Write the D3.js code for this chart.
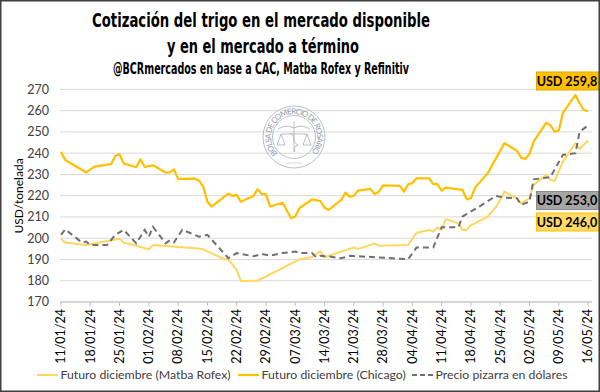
<!DOCTYPE html>
<meta charset="utf-8">
<style>
  body { margin: 0; background: #fff; }
  text { font-family: Lato, "Open Sans", sans-serif; }
  .grid line { stroke: #d9d9d9; stroke-width: 1; }
  .title { font-family: "Liberation Sans Narrow", "DejaVu Sans Condensed", sans-serif; font-weight: bold; fill: #000; }
</style>
<svg width="600" height="392"></svg>
<script src="https://d3js.org/d3.v7.min.js"></script>
<script>
// Futuro diciembre (Matba Rofex)
const rofexDates = ["11/01/24","12/01/24","17/01/24","25/01/24","26/01/24","01/02/24","02/02/24","12/02/24","14/02/24",
  "19/02/24","20/02/24","22/02/24","23/02/24","27/02/24","08/03/24","11/03/24","13/03/24","14/03/24","18/03/24",
  "21/03/24","22/03/24","26/03/24","27/03/24","03/04/24","05/04/24","08/04/24","09/04/24","10/04/24","11/04/24",
  "12/04/24","15/04/24","16/04/24","17/04/24","18/04/24","19/04/24","22/04/24","24/04/24","26/04/24","29/04/24",
  "30/04/24","02/05/24","03/05/24","06/05/24","07/05/24","08/05/24","10/05/24","13/05/24","14/05/24","16/05/24"];
const rofexValues = [199.7,198.0,196.8,199.7,198.0,194.8,196.8,195.3,194.8,
  190.1,190.1,185.1,179.9,180.0,190.1,191.2,193.8,191.0,193.7,
  195.6,195.0,197.5,196.4,196.8,202.6,203.9,203.1,205.0,203.9,
  209.0,207.0,203.9,203.9,206.2,207.0,210.2,214.6,221.9,218.8,
  216.4,218.8,225.1,229.8,227.4,226.9,236.0,244.7,242.0,246.0];

// Futuro diciembre (Chicago)
const chicagoDates = ["11/01/24","12/01/24","17/01/24","19/01/24","23/01/24","24/01/24","25/01/24","26/01/24","29/01/24",
  "30/01/24","31/01/24","02/02/24","05/02/24","06/02/24","07/02/24","08/02/24","12/02/24","13/02/24","14/02/24",
  "15/02/24","16/02/24","20/02/24","21/02/24","22/02/24","23/02/24","26/02/24","27/02/24","28/02/24","29/02/24",
  "01/03/24","04/03/24","06/03/24","07/03/24","08/03/24","11/03/24","13/03/24","14/03/24","15/03/24","18/03/24",
  "19/03/24","20/03/24","21/03/24","22/03/24","25/03/24","26/03/24","27/03/24","28/03/24","01/04/24","02/04/24",
  "03/04/24","04/04/24","05/04/24","08/04/24","09/04/24","10/04/24","11/04/24","12/04/24","15/04/24","16/04/24",
  "17/04/24","18/04/24","19/04/24","22/04/24","26/04/24","29/04/24","30/04/24","01/05/24","02/05/24","03/05/24",
  "06/05/24","07/05/24","08/05/24","09/05/24","10/05/24","13/05/24","14/05/24","15/05/24","16/05/24"];
const chicagoValues = [240.7,236.8,231.0,233.7,234.9,238.8,239.5,235.2,233.4,
  237.1,233.5,234.3,230.9,231.0,232.4,227.9,228.0,227.1,224.3,
  217.2,214.9,221.0,219.9,220.4,217.2,219.9,223.0,220.8,220.7,
  214.9,216.7,209.4,210.2,214.1,218.3,217.5,214.4,213.3,218.0,
  221.4,219.6,219.9,222.4,223.2,220.8,221.9,224.9,224.6,221.9,
  225.4,225.9,228.2,228.2,225.4,225.4,222.4,223.8,223.0,222.7,
  218.3,218.8,223.8,230.5,244.7,241.2,237.9,237.3,239.6,245.4,
  254.3,253.2,250.1,250.6,259.0,267.4,263.5,260.3,259.8];

// Precio pizarra en dólares
const pizarraDates = ["11/01/24","12/01/24","16/01/24","17/01/24","18/01/24","22/01/24","24/01/24","26/01/24","29/01/24",
  "31/01/24","01/02/24","02/02/24","05/02/24","06/02/24","07/02/24","09/02/24","13/02/24","15/02/24","20/02/24",
  "22/02/24","26/02/24","28/02/24","01/03/24","04/03/24","07/03/24","08/03/24","11/03/24","12/03/24","13/03/24",
  "15/03/24","18/03/24","20/03/24","26/03/24","03/04/24","05/04/24","09/04/24","11/04/24","15/04/24","16/04/24",
  "17/04/24","20/04/24","24/04/24","26/04/24","29/04/24","30/04/24","02/05/24","03/05/24","07/05/24","10/05/24",
  "13/05/24","14/05/24","16/05/24"];
const pizarraValues = [201.6,204.2,198.0,198.4,196.8,196.8,201.6,203.9,197.6,
  203.9,200.7,205.3,197.6,199.0,198.0,204.0,200.7,201.6,190.6,
  193.0,191.5,192.6,191.8,193.0,193.7,193.0,193.0,191.1,191.8,
  191.4,190.6,191.7,191.1,190.1,195.6,195.6,205.2,205.2,210.2,
  211.4,214.9,219.9,219.1,218.8,215.7,217.2,227.7,228.7,239.2,
  240.0,250.1,253.0];

const xTickLabels = ["11/01/24","18/01/24","25/01/24","01/02/24","08/02/24","15/02/24","22/02/24","29/02/24","07/03/24",
  "14/03/24","21/03/24","28/03/24","04/04/24","11/04/24","18/04/24","25/04/24","02/05/24","09/05/24","16/05/24"];
const yTicks = [170, 180, 190, 200, 210, 220, 230, 240, 250, 260, 270];

const seriesNames = ["Futuro diciembre (Matba Rofex)", "Futuro diciembre (Chicago)", "Precio pizarra en dólares"];

const parse = d3.timeParse("%d/%m/%y");
const fmt = d3.formatLocale({decimal: ",", thousands: ".", grouping: [3], currency: ["", ""]}).format(".1f");

const svg = d3.select("svg");

const x = d3.scaleTime()
  .domain([parse("11/01/24"), parse("16/05/24")])
  .range([61, 588]);
const y = d3.scaleLinear()
  .domain([170, 270])
  .range([302, 89.4]);

function toPoints(dates, values) {
  return dates.map(function(d, i) { return {date: parse(d), value: values[i]}; });
}
const rofex = toPoints(rofexDates, rofexValues);
const chicago = toPoints(chicagoDates, chicagoValues);
const pizarra = toPoints(pizarraDates, pizarraValues);

// gridlines
svg.append("g").attr("class", "grid")
  .selectAll("line")
  .data(yTicks)
  .enter().append("line")
  .attr("x1", 60).attr("x2", 592)
  .attr("y1", function(d) { return y(d); })
  .attr("y2", function(d) { return y(d); });

// y labels
svg.append("g")
  .selectAll("text")
  .data(yTicks)
  .enter().append("text")
  .attr("x", 49)
  .attr("y", function(d) { return y(d); })
  .attr("dy", "0.35em")
  .attr("text-anchor", "end")
  .attr("font-size", 12.5)
  .attr("fill", "#404040")
  .text(function(d) { return d; });

svg.append("text")
  .attr("transform", "translate(23,196) rotate(-90)")
  .attr("text-anchor", "middle")
  .attr("font-size", 12)
  .attr("fill", "#000")
  .text("USD/tonelada");

// x axis
const xTicks = xTickLabels.map(parse);
svg.append("line")
  .attr("x1", 60).attr("x2", 592)
  .attr("y1", 302).attr("y2", 302)
  .attr("stroke", "#bfbfbf");
svg.append("g")
  .selectAll("line")
  .data(xTicks)
  .enter().append("line")
  .attr("x1", function(d) { return x(d); })
  .attr("x2", function(d) { return x(d); })
  .attr("y1", 302).attr("y2", 306)
  .attr("stroke", "#bfbfbf");
svg.append("g")
  .selectAll("text")
  .data(xTicks)
  .enter().append("text")
  .attr("transform", function(d) { return "translate(" + x(d) + ",309) rotate(-90)"; })
  .attr("dy", "0.35em")
  .attr("text-anchor", "end")
  .attr("font-size", 12.5)
  .attr("fill", "#000")
  .text(function(d, i) { return xTickLabels[i]; });

// watermark seal
const seal = svg.append("g")
  .attr("transform", "translate(294,137)")
  .attr("fill", "none")
  .attr("stroke", "#a9aeb8")
  .attr("stroke-width", 0.8);
seal.append("circle").attr("r", 31);
seal.append("circle").attr("r", 21.5);
seal.append("path").attr("id", "sealarc")
  .attr("d", "M -16.3,16.3 A 23,23 0 1 1 16.3,16.3").attr("stroke", "none");
seal.append("text")
  .attr("font-family", "'Liberation Sans Narrow', sans-serif")
  .attr("font-size", 8).attr("fill", "#979daa").attr("stroke", "none")
  .append("textPath").attr("href", "#sealarc")
  .attr("textLength", 106).attr("lengthAdjust", "spacing")
  .text("BOLSA DE COMERCIO DE ROSARIO");
seal.append("line").attr("x1", 0).attr("x2", 0).attr("y1", -16).attr("y2", 15);
seal.append("path").attr("d", "M -16,-8 Q -8,-13 0,-9 Q 8,-13 16,-8");
seal.append("line").attr("x1", -13).attr("x2", 13).attr("y1", -3).attr("y2", -3);
seal.append("path").attr("d", "M -13,-3 L -17,8 L -9,8 Z M 13,-3 L 9,8 L 17,8 Z");
seal.append("path").attr("d", "M -4,-4 C 4,0 -4,4 4,8 C -3,11 3,13 0,15");
seal.append("line").attr("x1", -8).attr("x2", 8).attr("y1", 26).attr("y2", 26).attr("stroke-width", 0.5);

// lines
const line = d3.line()
  .x(function(d) { return x(d.date); })
  .y(function(d) { return y(d.value); });

svg.append("path").datum(rofex)
  .attr("d", line)
  .attr("fill", "none")
  .attr("stroke", "#ffd75e")
  .attr("stroke-width", 2)
  .attr("stroke-linejoin", "round");
svg.append("path").datum(chicago)
  .attr("d", line)
  .attr("fill", "none")
  .attr("stroke", "#ffc000")
  .attr("stroke-width", 2.25)
  .attr("stroke-linejoin", "round");
svg.append("path").datum(pizarra)
  .attr("d", line)
  .attr("fill", "none")
  .attr("stroke", "#707070")
  .attr("stroke-width", 2)
  .attr("stroke-dasharray", "6,4");

// end-value boxes
const boxes = [
  {value: chicagoValues[chicagoValues.length - 1], top: 72, fill: "#ffc000", stroke: "#e0a800"},
  {value: pizarraValues[pizarraValues.length - 1], top: 191.5, fill: "#a5a5a5", stroke: "#8c8c8c"},
  {value: rofexValues[rofexValues.length - 1], top: 213, fill: "#ffd966", stroke: "#ffc000"}
];
const box = svg.append("g").selectAll("g")
  .data(boxes)
  .enter().append("g");
box.append("rect")
  .attr("x", 536.5)
  .attr("y", function(d) { return d.top; })
  .attr("width", 62)
  .attr("height", 18)
  .attr("fill", function(d) { return d.fill; })
  .attr("stroke", function(d) { return d.stroke; });
box.append("text")
  .attr("x", 567)
  .attr("y", function(d) { return d.top + 13.5; })
  .attr("text-anchor", "middle")
  .attr("font-size", 12.5)
  .attr("font-weight", "bold")
  .attr("fill", "#000")
  .text(function(d) { return "USD " + fmt(d.value); });

// titles
svg.append("text").attr("class", "title")
  .attr("x", 92).attr("y", 27)
  .attr("font-size", 20)
  .attr("textLength", 338).attr("lengthAdjust", "spacingAndGlyphs")
  .text("Cotización del trigo en el mercado disponible");
svg.append("text").attr("class", "title")
  .attr("x", 167).attr("y", 53)
  .attr("font-size", 20)
  .attr("textLength", 192).attr("lengthAdjust", "spacingAndGlyphs")
  .text("y en el mercado a término");
svg.append("text").attr("class", "title")
  .attr("x", 113).attr("y", 74)
  .attr("font-size", 15)
  .attr("textLength", 296).attr("lengthAdjust", "spacingAndGlyphs")
  .text("@BCRmercados en base a CAC, Matba Rofex y Refinitiv");

// legend
const legend = [
  {name: seriesNames[0], x: 37, color: "#ffd75e", dash: null, width: 2},
  {name: seriesNames[1], x: 238, color: "#ffc000", dash: null, width: 2.25},
  {name: seriesNames[2], x: 412, color: "#707070", dash: "5,3", width: 2}
];
const leg = svg.append("g").selectAll("g")
  .data(legend)
  .enter().append("g")
  .attr("transform", function(d) { return "translate(" + d.x + ",375)"; });
leg.append("line")
  .attr("x1", 0).attr("x2", 21)
  .attr("stroke", function(d) { return d.color; })
  .attr("stroke-width", function(d) { return d.width; })
  .attr("stroke-dasharray", function(d) { return d.dash; });
leg.append("text")
  .attr("x", 23.5)
  .attr("dy", "0.35em")
  .attr("font-size", 12.3)
  .attr("fill", "#404040")
  .text(function(d) { return d.name; });

// frame
svg.append("rect")
  .attr("x", 0.75).attr("y", 0.75)
  .attr("width", 598.5).attr("height", 390.5)
  .attr("fill", "none")
  .attr("stroke", "#404040")
  .attr("stroke-width", 1.5);
</script>
